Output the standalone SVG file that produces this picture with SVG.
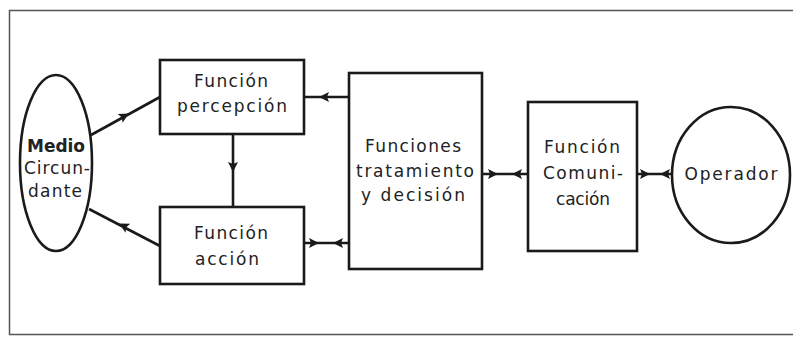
<svg xmlns="http://www.w3.org/2000/svg" xmlns:xlink="http://www.w3.org/1999/xlink" width="793" height="337" viewBox="0 0 793 337">
  <style>
    .frame { fill: none; stroke: #555; stroke-width: 1.5; }
    .node { fill: #fff; stroke: #1a1a1a; stroke-width: 2.6; }
    .wire { fill: none; stroke: #1a1a1a; stroke-width: 2.6; }
    .head { fill: #1a1a1a; }
    .lbl { font-family: "DejaVu Sans", "Liberation Sans", sans-serif; font-size: 17px; fill: #222; text-anchor: middle; dominant-baseline: middle; }
    .bold { font-weight: bold; }
  </style>
  <defs>
    <!-- arrowhead with its tip at the origin, pointing along +x -->
    <path id="ah" class="head" d="M1,0 L-9,-5 L-7,0 L-9,5 Z"/>
  </defs>

  <rect class="frame" x="9.5" y="10.5" width="790" height="324"/>

  <g id="medio">
    <ellipse class="node" cx="56" cy="163" rx="36" ry="88"/>
    <text class="lbl bold" x="56" y="147" textLength="58" lengthAdjust="spacing">Medio</text>
    <text class="lbl" x="57" y="169" textLength="66" lengthAdjust="spacing">Circun-</text>
    <text class="lbl" x="55" y="192" textLength="54" lengthAdjust="spacing">dante</text>
  </g>

  <g id="percepcion">
    <rect class="node" x="160" y="60" width="144" height="74"/>
    <text class="lbl" x="231" y="82" textLength="74" lengthAdjust="spacing">Función</text>
    <text class="lbl" x="232" y="107" textLength="110" lengthAdjust="spacing">percepción</text>
  </g>

  <g id="accion">
    <rect class="node" x="160" y="207" width="144" height="77"/>
    <text class="lbl" x="231" y="234" textLength="74" lengthAdjust="spacing">Función</text>
    <text class="lbl" x="227" y="260" textLength="64" lengthAdjust="spacing">acción</text>
  </g>

  <g id="tratamiento">
    <rect class="node" x="349" y="73" width="133" height="196"/>
    <text class="lbl" x="413" y="147" textLength="96" lengthAdjust="spacing">Funciones</text>
    <text class="lbl" x="415" y="172" textLength="118" lengthAdjust="spacing">tratamiento</text>
    <text class="lbl" x="413" y="196" textLength="104" lengthAdjust="spacing">y decisión</text>
  </g>

  <g id="comunicacion">
    <rect class="node" x="528" y="102" width="109" height="149"/>
    <text class="lbl" x="582" y="148" textLength="76" lengthAdjust="spacing">Función</text>
    <text class="lbl" x="583" y="174" textLength="80" lengthAdjust="spacing">Comuni-</text>
    <text class="lbl" x="583" y="200" textLength="54" lengthAdjust="spacing">cación</text>
  </g>

  <g id="operador">
    <ellipse class="node" cx="731" cy="175" rx="59" ry="68"/>
    <text class="lbl" x="731" y="175" textLength="93" lengthAdjust="spacing">Operador</text>
  </g>

  <g id="connectors">
    <!-- medio -> percepción -->
    <path class="wire" d="M91,135 L160,97"/>
    <use xlink:href="#ah" transform="translate(128,114) rotate(-29)"/>
    <!-- acción -> medio -->
    <path class="wire" d="M89,209 L160,246"/>
    <use xlink:href="#ah" transform="translate(120,224) rotate(208)"/>
    <!-- percepción -> acción -->
    <path class="wire" d="M233,134 L233,207"/>
    <use xlink:href="#ah" transform="translate(233,171) rotate(90)"/>
    <!-- tratamiento -> percepción -->
    <path class="wire" d="M304,97 L349,97"/>
    <use xlink:href="#ah" transform="translate(320,97) rotate(180)"/>
    <!-- acción <-> tratamiento -->
    <path class="wire" d="M304,243 L349,243"/>
    <use xlink:href="#ah" transform="translate(318,243)"/>
    <use xlink:href="#ah" transform="translate(334,243) rotate(180)"/>
    <!-- tratamiento <-> comunicación -->
    <path class="wire" d="M482,174 L528,174"/>
    <use xlink:href="#ah" transform="translate(497,174)"/>
    <use xlink:href="#ah" transform="translate(513,174) rotate(180)"/>
    <!-- comunicación <-> operador -->
    <path class="wire" d="M637,174 L672,174"/>
    <use xlink:href="#ah" transform="translate(649,174)"/>
    <use xlink:href="#ah" transform="translate(661,174) rotate(180)"/>
  </g>
</svg>
